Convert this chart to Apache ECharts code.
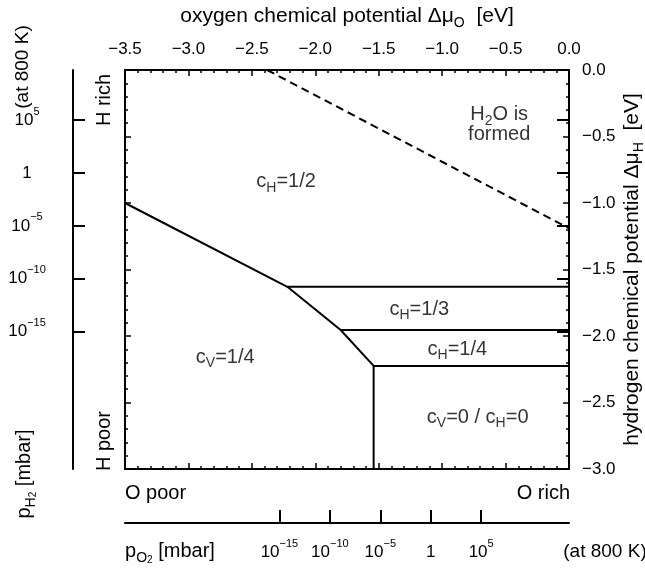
<!DOCTYPE html>
<html>
<head>
<meta charset="utf-8">
<script src="https://cdn.jsdelivr.net/npm/echarts@6/dist/echarts.min.js"></script>
<style>
html, body { margin: 0; padding: 0; background: #fff; }
#main { width: 645px; height: 576px; }
</style>
</head>
<body>
<div id="main"></div>
<script>
// phase boundaries as (delta mu_O, delta mu_H) in eV
var h2oLine = [[-2.38, 0.0], [0.0, -1.19]];
var vacancyEdge = [[-3.5, -1.0], [-2.22, -1.63], [-1.80, -1.955], [-1.54, -2.225], [-1.54, -3.0]];
var edgeH13 = [[-2.22, -1.63], [0.0, -1.63]];
var edgeH14 = [[-1.80, -1.955], [0.0, -1.955]];
var edgeH0 = [[-1.54, -2.225], [0.0, -2.225]];

// pressure scales at 800 K (powers of ten, mbar)
var pO2Exps = [-15, -10, -5, 0, 5];
var pH2Exps = [-15, -10, -5, 0, 5];
var muO1mbar = -1.09;
var muH1mbar = -0.775;
var muPerDecade = 0.0795;

var regionLabels = [
  { text: '{n|H}{s|2}{n|O is}\n{f|formed}', at: [-0.55, -0.39] },
  { text: '{n|c}{s|H}{n|=1/2}', at: [-2.23, -0.84] },
  { text: '{n|c}{s|H}{n|=1/3}', at: [-1.18, -1.80] },
  { text: '{n|c}{s|H}{n|=1/4}', at: [-0.88, -2.10] },
  { text: '{n|c}{s|V}{n|=1/4}', at: [-2.71, -2.16] },
  { text: '{n|c}{s|V}{n|=0 / c}{s|H}{n|=0}', at: [-0.72, -2.61] }
];

var FONT = 'Liberation Sans';
function richSet(size, lh, subLh) {
  return {
    n: { fontFamily: FONT, fontSize: size, lineHeight: lh, color: '#000' },
    f: { fontFamily: FONT, fontSize: size, lineHeight: 14, color: '#000' },
    s: { fontFamily: FONT, fontSize: Math.round(size * 0.68), lineHeight: subLh, verticalAlign: 'bottom', color: '#000' },
    ss: { fontFamily: FONT, fontSize: Math.round(size * 0.5), lineHeight: 5, verticalAlign: 'bottom', color: '#000' },
    u: { fontFamily: FONT, fontSize: 11, lineHeight: 11, verticalAlign: 'top', color: '#000' },
    b: { fontFamily: FONT, fontSize: size, lineHeight: 28, color: '#000' }
  };
}
var richTick = richSet(17, 24, 12);
var richName = richSet(21, 28, 14);
var richRegion = richSet(20, 26, 12);
var richNote = richSet(20, 28, 14);
var richNoteSmall = richSet(19, 28, 14);

function minus(str) { return str.replace('-', '\u2212'); }
function numLabel(v) {
  if (Math.abs(v) < 1e-9) v = 0;
  return minus(v.toFixed(1));
}
function powLabel(mu, mu1) {
  var e = Math.round((mu - mu1) / muPerDecade);
  if (e === 0) return '{b|1}';
  return '{b|10}{u|' + minus(String(e)) + '}';
}

var chart = echarts.init(document.getElementById('main'));

function frameAxis(extra) {
  var ax = {
    type: 'value',
    axisLine: { show: true, onZero: false, lineStyle: { color: '#000', width: 2 } },
    axisTick: { show: true, inside: true, length: 6, lineStyle: { color: '#000', width: 1.5 } },
    minorTick: { show: true, splitNumber: 5, length: 3, lineStyle: { color: '#000', width: 1.5 } },
    splitLine: { show: false },
    axisLabel: { show: false }
  };
  return Object.assign(ax, extra);
}

function lineSeries(data, dashed) {
  return {
    type: 'line', xAxisIndex: 0, yAxisIndex: 0, data: data,
    symbol: 'none', silent: true, z: 3,
    lineStyle: { color: '#000', width: 2, type: dashed ? [8, 5] : 'solid' }
  };
}

function note(text, x, y, rotated, align, rich) {
  return {
    type: 'text', x: x, y: y, rotation: rotated ? Math.PI / 2 : 0,
    style: { text: text, rich: rich || richNote, fill: '#000', align: align || 'center', verticalAlign: 'middle' }
  };
}

var muOTicks = pO2Exps.map(function (e) { return muO1mbar + e * muPerDecade; });
var muHTicks = pH2Exps.map(function (e) { return muH1mbar + e * muPerDecade; });

var option = {
  animation: false,
  backgroundColor: '#fff',
  textStyle: { fontFamily: FONT, color: '#000' },
  grid: { left: 125, right: 76, top: 70, bottom: 107, outerBoundsMode: 'none', containLabel: false },
  xAxis: [
    frameAxis({
      position: 'top', min: -3.5, max: 0, interval: 0.5,
      axisLabel: { show: true, fontSize: 17, color: '#000', margin: 12, formatter: numLabel },
      name: '{n|oxygen chemical potential \u0394\u03bc}{s|O}{n|  [eV]}',
      nameLocation: 'middle', nameGap: 40, nameMoveOverlap: false,
      nameTextStyle: { rich: richName }
    }),
    frameAxis({ position: 'bottom', min: -3.5, max: 0, interval: 0.5 }),
    {
      type: 'value', position: 'bottom', offset: 54, min: -3.5, max: 0,
      axisLine: { show: true, onZero: false, lineStyle: { color: '#000', width: 2 } },
      axisTick: { show: true, inside: true, length: 13, customValues: muOTicks, lineStyle: { color: '#000', width: 2 } },
      axisLabel: {
        show: true, customValues: muOTicks, margin: 15,
        formatter: function (v) { return powLabel(v, muO1mbar); }, rich: richTick
      },
      splitLine: { show: false }
    }
  ],
  yAxis: [
    frameAxis({
      position: 'right', min: -3, max: 0, interval: 0.5,
      axisLabel: { show: true, fontSize: 17, color: '#000', margin: 13, formatter: numLabel },
      name: '{n|hydrogen chemical potential \u0394\u03bc}{s|H}{n|  [eV]}',
      nameLocation: 'middle', nameGap: 49, nameRotate: 90, nameMoveOverlap: false,
      nameTextStyle: { rich: richName }
    }),
    frameAxis({ position: 'left', min: -3, max: 0, interval: 0.5 }),
    {
      type: 'value', position: 'left', offset: 52, min: -3, max: 0,
      axisLine: { show: true, onZero: false, lineStyle: { color: '#000', width: 2 } },
      axisTick: { show: true, inside: true, length: 12, customValues: muHTicks, lineStyle: { color: '#000', width: 2 } },
      axisLabel: { show: false },
      splitLine: { show: false }
    },
    {
      type: 'value', position: 'left', offset: 52, min: -3, max: 0,
      axisLine: { show: false },
      axisTick: { show: true, inside: false, length: 12, customValues: muHTicks, lineStyle: { color: '#000', width: 2 } },
      axisLabel: {
        show: true, customValues: muHTicks, margin: 46, align: 'center',
        formatter: function (v) { return powLabel(v, muH1mbar); }, rich: richTick
      },
      splitLine: { show: false }
    }
  ],
  graphic: [
    note('{n|H rich}', 104, 100, true),
    note('{n|H poor}', 104, 441, true),
    note('{n|O poor}', 125, 493, false, 'left'),
    note('{n|O rich}', 570, 493, false, 'right'),
    note('{n|(at 800 K)}', 23, 67, true, 'center', richNoteSmall),
    note('{n|p}{s|H}{ss|2}{n| [mbar]}', 24, 474, true),
    note('{n|p}{s|O}{ss|2}{n| [mbar]}', 170, 551, false),
    note('{n|(at 800 K)}', 605, 552, false, 'center', richNoteSmall)
  ],
  series: [
    lineSeries(h2oLine, true),
    lineSeries(vacancyEdge, false),
    lineSeries(edgeH13, false),
    lineSeries(edgeH14, false),
    lineSeries(edgeH0, false),
    {
      type: 'scatter', xAxisIndex: 0, yAxisIndex: 0, silent: true,
      symbol: 'circle', symbolSize: 1, itemStyle: { color: 'rgba(0,0,0,0)' },
      data: regionLabels.map(function (r) {
        return { value: r.at, label: { formatter: r.text } };
      }),
      label: { show: true, position: 'inside', color: '#000', rich: richRegion, align: 'center', verticalAlign: 'middle' }
    }
  ]
};

chart.setOption(option);
</script>
</body>
</html>
